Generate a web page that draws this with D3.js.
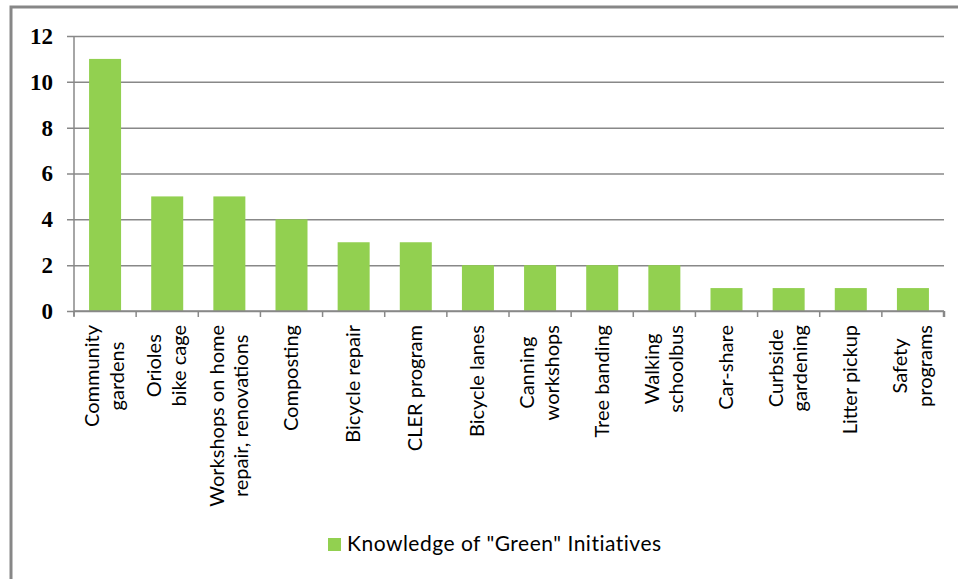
<!DOCTYPE html>
<html>
<head>
<meta charset="utf-8">
<script src="https://cdn.jsdelivr.net/npm/d3@7"></script>
<style>
  html, body { margin: 0; padding: 0; background: #fff; overflow: hidden; }
  svg { display: block; }
</style>
</head>
<body>
<svg id="chart" width="958" height="579"></svg>
<script>
// Initiatives, one entry per bar; "\n" splits a label onto two lines
const categories = [
  "Community\ngardens",
  "Orioles\nbike cage",
  "Workshops on home\nrepair, renovations",
  "Composting",
  "Bicycle repair",
  "CLER program",
  "Bicycle lanes",
  "Canning\nworkshops",
  "Tree banding",
  "Walking\nschoolbus",
  "Car-share",
  "Curbside\ngardening",
  "Litter pickup",
  "Safety\nprograms"
];
const values = [11, 5, 5, 4, 3, 3, 2, 2, 2, 2, 1, 1, 1, 1];
const yTicks = [0, 2, 4, 6, 8, 10, 12];
const seriesName = "Knowledge of \"Green\" Initiatives";

const barColor = "#92D050";
const gridColor = "#888888";
const labelFont = "Lato, 'Open Sans', sans-serif";

const svg = d3.select("#chart");

// Chart-area frame
svg.append("rect")
  .attr("x", 11).attr("y", 7)
  .attr("width", 1000).attr("height", 700)
  .attr("fill", "#fff")
  .attr("stroke", "#878787")
  .attr("stroke-width", 3);

const plot = { left: 74, right: 944, top: 36, bottom: 311 };

const x = d3.scaleBand()
  .domain(categories)
  .range([plot.left, plot.right])
  .paddingInner(0.485)
  .paddingOuter(0.2425);

const y = d3.scaleLinear()
  .domain([0, 12])
  .range([plot.bottom, plot.top]);

// Horizontal gridlines with short ticks left of the axis
const yAxis = d3.axisLeft(y)
  .tickValues(yTicks)
  .tickSize(-(plot.right - plot.left))
  .tickSizeOuter(0)
  .tickPadding(21)
  .tickFormat(d3.format("d"));

const gy = svg.append("g")
  .attr("transform", `translate(${plot.left},0)`)
  .call(yAxis);
gy.select(".domain").remove();
gy.selectAll(".tick line")
  .attr("x1", -7)
  .attr("stroke", gridColor)
  .attr("stroke-width", 1.5);
gy.selectAll(".tick text")
  .attr("fill", "#000")
  .style("font-family", "'Liberation Serif', 'DejaVu Serif', serif")
  .style("font-weight", "bold")
  .style("font-size", "23px");

// Vertical axis line
svg.append("line")
  .attr("x1", plot.left).attr("x2", plot.left)
  .attr("y1", y(12)).attr("y2", plot.bottom + 5)
  .attr("stroke", gridColor).attr("stroke-width", 1.5);

// Bars
svg.append("g")
  .selectAll("rect")
  .data(values)
  .join("rect")
  .attr("x", (d, i) => x(categories[i]))
  .attr("y", d => y(d))
  .attr("width", x.bandwidth())
  .attr("height", d => y(0) - y(d))
  .attr("fill", barColor);

// Category axis: baseline and tick marks between categories
svg.append("line")
  .attr("x1", plot.left).attr("x2", plot.right)
  .attr("y1", plot.bottom).attr("y2", plot.bottom)
  .attr("stroke", gridColor).attr("stroke-width", 1.5);

const step = x.step();
const boundaries = d3.range(categories.length + 1).map(i => plot.left + i * step);
svg.append("g")
  .selectAll("line")
  .data(boundaries)
  .join("line")
  .attr("x1", d => d).attr("x2", d => d)
  .attr("y1", plot.bottom).attr("y2", plot.bottom + 6)
  .attr("stroke", gridColor)
  .attr("stroke-width", (d, i) => i === boundaries.length - 1 ? 2.5 : 1.5);

// Rotated category labels, lines centred on each other
const labelTop = 325;
const lineGap = 24.5;
const labels = svg.append("g")
  .selectAll("g")
  .data(categories)
  .join("g")
  .attr("transform", d => `translate(${x(d) + x.bandwidth() / 2},${labelTop}) rotate(-90)`);

labels.each(function (d) {
  const g = d3.select(this);
  const lines = d.split("\n");
  const texts = lines.map((line, i) =>
    g.append("text")
      .text(line)
      .attr("text-anchor", "middle")
      .attr("dy", ((i - (lines.length - 1) / 2) * lineGap + 6.5) + "px")
      .attr("fill", "#000")
      .style("font-family", labelFont)
      .style("font-size", "20px"));
  const maxW = d3.max(texts, t => t.node().getComputedTextLength());
  texts.forEach(t => t.attr("x", -maxW / 2));
});

// Legend
const legend = svg.append("g").attr("transform", "translate(328,538)");
legend.append("rect")
  .attr("width", 13).attr("height", 13)
  .attr("fill", barColor);
legend.append("text")
  .attr("x", 19).attr("y", 13)
  .text(seriesName)
  .attr("fill", "#000")
  .style("font-family", labelFont)
  .style("font-size", "21px")
  .style("letter-spacing", "0.5px");
</script>
</body>
</html>
